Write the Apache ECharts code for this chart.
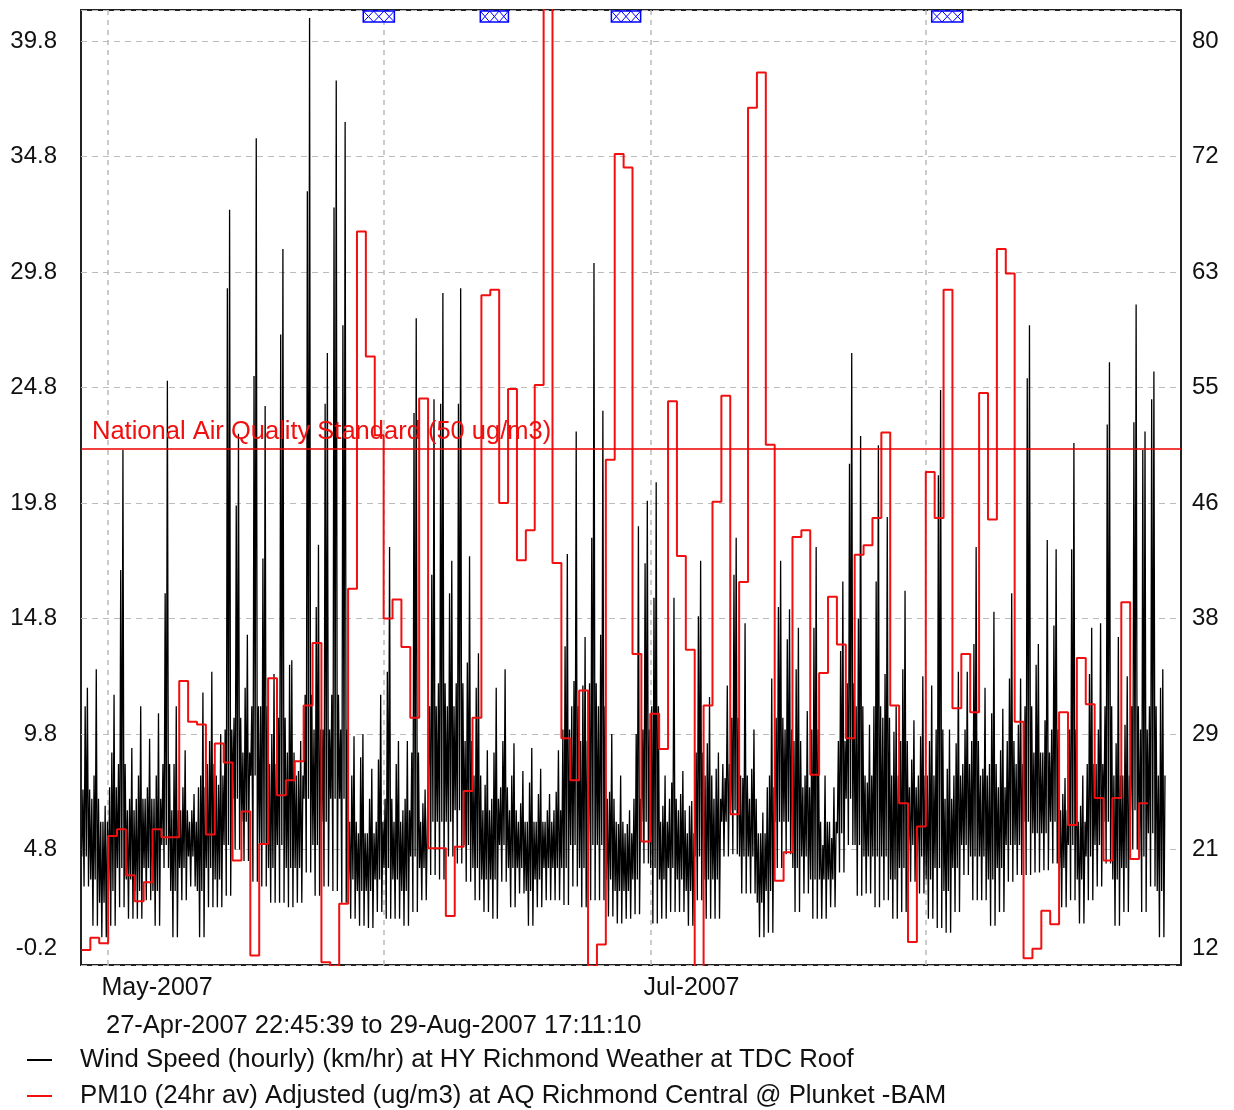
<!DOCTYPE html>
<html>
<head>
<meta charset="utf-8">
<script src="https://cdn.jsdelivr.net/npm/echarts@6/dist/echarts.min.js"></script>
<style>
  html, body { margin: 0; padding: 0; background: #fff; }
  #main { width: 1234px; height: 1110px; }
</style>
</head>
<body>
<div id="main"></div>
<script>
var DAY = 86400000;
var HOUR = 3600000;
var startTime = new Date(2007, 3, 27, 22, 45, 39).getTime();
var endTime = new Date(2007, 7, 29, 17, 11, 10).getTime();
var firstDay = new Date(2007, 3, 28).getTime();

var rangeText = '27-Apr-2007 22:45:39 to 29-Aug-2007 17:11:10';
var windName = 'Wind Speed (hourly) (km/hr) at HY Richmond Weather at TDC Roof';
var pmName = 'PM10 (24hr av) Adjusted (ug/m3) at AQ Richmond Central @ Plunket -BAM';
var standardText = 'National Air Quality Standard (50 ug/m3)';
var standardValue = 50;

// month gridlines, and the two labelled months
var monthStarts = [[2007, 4, 1], [2007, 5, 1], [2007, 6, 1], [2007, 7, 1]];
var labelMonths = [[2007, 4, 1], [2007, 6, 1]];
var monthLabels = ['May-2007', 'Jul-2007'];

// left / right axis scales
var leftMin = -0.2, leftMax = 41.15, leftStep = 5;
var rightMin = 12, rightMax = 82.3, rightStep = 8.5;

// wind speed, per day from 28-Apr
// windLo / windMin: bottom of the trace, windBand: top of the dense band,
// windHi: second highest spike, windMax: highest spike of the day
var windLo = [4.5,3.5,2.5,3.0,4.0,3.5,3.0,4.0,3.0,5.0,
  3.0,4.0,4.5,3.0,4.0,3.5,5.0,7.0,6.0,8.0,
  5.0,4.0,5.0,4.0,4.0,7.0,5.0,6.0,7.0,7.0,
  3.5,3.0,3.0,3.5,4.0,3.5,3.0,4.5,4.0,6.0,
  6.0,6.0,6.5,5.0,4.0,3.5,3.5,5.0,4.0,4.0,
  3.0,3.5,4.0,4.0,4.0,5.0,4.0,5.0,5.0,3.5,
  3.0,3.0,3.5,6.0,4.0,3.5,4.0,3.5,3.0,4.5,
  3.5,3.5,6.0,6.5,4.5,4.5,2.5,3.0,6.0,6.0,
  4.0,4.5,3.5,3.5,3.5,5.5,7.0,5.0,4.5,4.5,
  4.5,3.5,4.0,5.0,4.5,3.5,4.0,3.0,4.0,5.0,
  4.5,4.5,3.5,4.0,5.0,5.0,6.0,5.5,5.5,6.0,
  4.0,5.0,3.5,4.5,5.0,6.0,3.5,4.0,6.5,4.5,
  5.5,3.0];
var windBand = [7.4,7.0,6.0,7.5,8.5,6.5,7.0,7.0,7.0,8.5,
  6.5,6.5,6.0,7.5,8.5,8.0,10.0,10.5,9.0,11.0,
  11.0,8.5,10.5,9.0,8.0,11.5,10.0,10.0,11.5,10.0,
  6.0,5.5,5.5,6.0,7.0,6.0,6.5,9.0,6.0,11.0,
  12.0,11.0,12.0,9.5,8.0,6.5,7.0,7.5,6.5,6.0,
  6.0,6.0,6.0,6.5,10.0,11.0,9.5,12.0,11.0,7.0,
  6.0,5.5,7.0,10.0,11.0,6.0,7.0,6.5,5.5,9.0,
  8.0,7.0,8.5,10.5,8.0,7.0,5.5,7.5,10.5,10.0,
  9.5,7.5,10.0,6.0,6.0,9.5,12.0,11.0,8.0,11.0,
  10.5,8.0,9.5,7.5,8.0,8.0,10.0,7.0,8.0,8.5,
  9.5,8.0,8.5,7.5,9.5,8.5,11.0,9.0,9.0,10.0,
  6.5,10.0,6.0,8.5,8.5,11.0,8.0,8.0,11.0,10.0,
  11.0,8.0];
var windHi = [11.0,8.0,6.0,9.0,16.9,7.0,8.0,7.5,8.0,15.9,
  8.5,7.5,6.5,8.0,9.5,7.6,29.1,19.7,11.8,25.3,
  17.4,9.8,27.1,12.8,8.2,33.3,15.3,24.1,32.6,27.5,
  8.0,8.8,7.0,8.7,12.5,8.5,7.0,23.7,6.8,16.7,
  24.1,15.9,24.1,12.9,11.8,7.6,9.0,9.5,8.0,6.8,
  7.7,7.2,6.5,7.3,13.6,12.1,11.9,18.3,14.1,7.3,
  5.9,5.9,9.8,17.2,15.7,6.7,7.7,7.2,6.7,14.9,
  9.4,8.3,7.9,16.7,7.9,8.3,5.5,8.0,15.3,13.9,
  12.6,8.0,14.4,5.0,5.3,13.4,21.5,14.8,7.7,16.4,
  12.4,9.9,12.6,8.7,9.7,9.5,21.0,8.3,9.4,10.0,
  13.7,8.3,10.7,9.1,12.2,10.2,25.2,12.8,10.4,14.5,
  7.2,17.8,6.7,12.4,10.0,23.2,9.4,10.2,23.3,22.1,
  24.3,11.8];
var windMin = [3.2,1.5,1.0,1.5,2.3,1.8,1.8,2.6,1.5,4.0,
  1.0,2.6,3.2,1.0,2.3,2.3,2.8,4.8,4.3,3.4,
  3.2,2.5,2.5,2.3,2.5,3.8,2.8,3.2,3.0,2.5,
  1.8,1.5,1.4,2.1,1.8,1.8,1.5,2.1,2.6,3.7,
  3.5,4.5,4.2,3.4,2.6,2.1,1.8,3.4,2.3,2.9,
  1.5,2.3,2.6,2.6,2.4,3.2,2.3,2.6,2.6,1.9,
  1.6,1.8,2.0,4.2,1.6,1.8,2.1,2.1,1.5,2.6,
  1.8,1.8,4.5,4.6,2.9,2.9,1.0,1.2,4.0,4.6,
  2.1,2.9,1.8,1.8,2.3,3.8,5.0,2.8,2.9,2.3,
  2.6,1.8,2.1,3.4,2.9,1.8,1.4,1.2,2.1,3.7,
  2.6,2.6,1.5,2.1,3.4,3.7,3.7,3.8,3.9,4.2,
  2.3,2.6,1.6,2.6,3.2,4.2,1.5,2.1,4.8,2.1,
  3.2,1.0];
var windMax = [11.8,12.6,6.7,11.5,22.1,9.2,11.0,9.6,10.7,25.1,
  11.0,9.1,7.2,11.6,12.5,9.8,32.5,22.8,14.1,35.6,
  24.0,12.4,30.8,13.0,9.5,40.8,18.0,26.3,38.1,36.3,
  9.7,9.8,8.3,11.5,17.9,9.5,9.5,27.8,7.4,24.3,
  28.9,17.3,29.1,17.5,13.3,9.1,11.8,12.6,9.4,8.2,
  9.2,8.3,7.2,9.1,17.6,22.9,14.0,30.2,23.8,9.8,
  8.0,6.5,18.8,19.9,20.7,8.0,15.7,8.2,6.9,17.3,
  11.4,9.0,11.9,18.3,14.6,10.0,6.4,12.2,17.3,15.2,
  14.4,10.8,17.9,8.0,7.5,16.4,26.3,22.7,10.2,22.3,
  19.2,11.0,16.0,10.4,12.3,11.9,24.7,10.0,12.5,12.5,
  17.9,11.8,15.1,10.9,15.9,12.2,27.5,13.7,18.2,17.8,
  7.9,22.4,8.0,14.4,14.6,25.9,14.0,12.3,28.4,22.9,
  25.5,12.6];

// PM10 24hr average, one value per day from 28-Apr
var pm10 = [13.1,14.0,13.6,21.5,22.0,18.6,16.7,18.1,22.0,21.4,
  21.4,32.9,29.9,29.7,21.6,28.3,26.9,19.7,23.3,12.7,
  20.9,33.1,24.5,25.6,27.0,31.1,35.7,12.2,11.9,16.5,
  39.7,66.0,56.8,51.0,37.5,38.9,35.4,30.2,53.7,20.6,
  20.6,15.6,20.7,24.8,30.2,61.3,61.7,46.0,54.4,41.8,
  44.0,54.7,88.0,41.6,28.7,25.6,32.2,11.9,13.5,49.2,
  71.7,70.7,34.9,21.1,30.5,27.9,53.5,42.1,35.2,11.5,
  31.1,46.1,53.9,23.1,40.2,75.1,77.7,50.3,18.2,20.3,
  43.5,44.0,26.0,33.5,39.1,35.6,28.7,42.2,42.9,44.9,
  51.2,31.1,23.9,13.7,22.2,48.3,44.9,61.7,30.9,34.9,
  30.6,54.1,44.8,64.7,62.9,29.9,12.5,13.2,16.0,15.0,
  30.6,22.3,34.6,31.2,24.3,19.7,24.3,38.7,19.8,23.9];

// hatched flags along the top edge [from, to]
var flagPeriods = [
  [[2007, 4, 29, 17], [2007, 5, 2, 5]],
  [[2007, 5, 11, 21], [2007, 5, 15, 1]],
  [[2007, 5, 26, 15], [2007, 5, 29, 22]],
  [[2007, 7, 1, 16], [2007, 7, 5, 4]]
];

function toTime(d) {
  return new Date(d[0], d[1], d[2], d[3] || 0).getTime();
}

// eight readings per day, three hours apart
var windData = [];
for (var i = 0; i < windMax.length; i++) {
  var t = firstDay + i * DAY;
  var day = [windLo[i], windBand[i], windMin[i], windHi[i],
             windLo[i], windMax[i], windMin[i], windBand[i]];
  for (var h = 0; h < day.length; h++) {
    windData.push([t + (h * 3 + 1) * HOUR, day[h]]);
  }
}

var pmData = [];
for (var j = 0; j < pm10.length; j++) {
  pmData.push([firstDay + j * DAY, pm10[j]]);
}
pmData.push([firstDay + pm10.length * DAY, pm10[pm10.length - 1]]);

var gridLines = monthStarts.map(toTime);
// labels start a little left of their gridline
var labelTimes = labelMonths.map(function (d) { return toTime(d) - 18 * HOUR; });

var font = "'Liberation Sans', Arial, sans-serif";
var textColor = '#111';

var chart = echarts.init(document.getElementById('main'));
chart.setOption({
  animation: false,
  backgroundColor: '#fff',
  textStyle: { fontFamily: font },
  title: {
    text: rangeText,
    left: 101,
    top: 1008,
    textStyle: { fontSize: 25.5, fontWeight: 'normal', color: textColor, fontFamily: font }
  },
  legend: {
    orient: 'vertical',
    left: 27,
    top: 1047,
    padding: 0,
    itemWidth: 25,
    itemHeight: 2,
    itemGap: 10,
    icon: 'rect',
    data: [windName, pmName],
    textStyle: { fontSize: 25.8, color: textColor, fontFamily: font, padding: [0, 0, 0, 23] }
  },
  grid: {
    left: 81,
    top: 10,
    width: 1100,
    height: 955,
    show: true,
    borderColor: '#222',
    borderWidth: 2,
    backgroundColor: '#fff'
  },
  xAxis: {
    type: 'value',
    min: startTime,
    max: endTime,
    axisLine: { show: false },
    axisTick: { show: false, customValues: gridLines },
    splitLine: {
      show: true,
      lineStyle: { color: '#bbb', type: [5, 5], width: 1.5 }
    },
    axisLabel: {
      customValues: labelTimes,
      align: 'left',
      margin: 11,
      fontSize: 25,
      color: textColor,
      fontFamily: font,
      formatter: function (v) {
        var k = labelTimes.indexOf(v);
        return k >= 0 ? monthLabels[k] : '';
      }
    }
  },
  yAxis: [
    {
      type: 'value',
      min: leftMin,
      max: leftMax,
      interval: leftStep,
      axisLine: { show: false },
      axisTick: { show: false },
      splitLine: { show: true, lineStyle: { color: '#bbb', type: [6, 5], width: 1 } },
      axisLabel: {
        margin: 24,
        fontSize: 24,
        color: textColor,
        fontFamily: font,
        showMaxLabel: false,
        verticalAlignMinLabel: 'bottom',
        padding: [0, 0, 5, 0],
        formatter: function (v) { return v.toFixed(1); }
      }
    },
    {
      type: 'value',
      min: rightMin,
      max: rightMax,
      interval: rightStep,
      axisLine: { show: false },
      axisTick: { show: false },
      splitLine: { show: false },
      axisLabel: {
        margin: 11,
        fontSize: 24,
        color: textColor,
        fontFamily: font,
        showMaxLabel: false,
        verticalAlignMinLabel: 'bottom',
        padding: [0, 0, 5, 0],
        formatter: function (v) { return String(Math.round(v)); }
      }
    }
  ],
  series: [
    {
      name: windName,
      type: 'line',
      yAxisIndex: 0,
      data: windData,
      showSymbol: false,
      lineStyle: { color: '#000', width: 1.3 },
      itemStyle: { color: '#000' },
      z: 3
    },
    {
      name: pmName,
      type: 'line',
      yAxisIndex: 1,
      data: pmData,
      step: 'end',
      showSymbol: false,
      lineStyle: { color: '#f01010', width: 2 },
      itemStyle: { color: '#f01010' },
      z: 4,
      markLine: {
        silent: true,
        symbol: 'none',
        lineStyle: { color: '#e00', width: 1.5, type: 'solid' },
        label: {
          show: true,
          position: 'insideStartTop',
          formatter: standardText,
          color: '#f01010',
          fontSize: 25.5,
          fontFamily: font,
          distance: [11, 4]
        },
        data: [{ yAxis: standardValue }]
      }
    },
    {
      type: 'custom',
      data: flagPeriods.map(function (p) { return [toTime(p[0]), toTime(p[1])]; }),
      encode: { x: [0, 1] },
      z: 5,
      renderItem: function (params, api) {
        var a = api.coord([api.value(0), leftMax]);
        var b = api.coord([api.value(1), leftMax]);
        var top = params.coordSys.y + 1;
        var h = 11;
        var w = b[0] - a[0];
        var cells = 3;
        var zig1 = [], zig2 = [];
        for (var k = 0; k <= cells; k++) {
          var x = a[0] + w * k / cells;
          zig1.push([x, k % 2 ? top + h : top]);
          zig2.push([x, k % 2 ? top : top + h]);
        }
        return {
          type: 'group',
          children: [
            { type: 'rect', shape: { x: a[0], y: top, width: w, height: h },
              style: { fill: '#fff', stroke: '#0000ff', lineWidth: 1.5 } },
            { type: 'polyline', shape: { points: zig1 }, style: { fill: null, stroke: '#0000ff', lineWidth: 1 } },
            { type: 'polyline', shape: { points: zig2 }, style: { fill: null, stroke: '#0000ff', lineWidth: 1 } }
          ]
        };
      }
    }
  ]
});
</script>
</body>
</html>
